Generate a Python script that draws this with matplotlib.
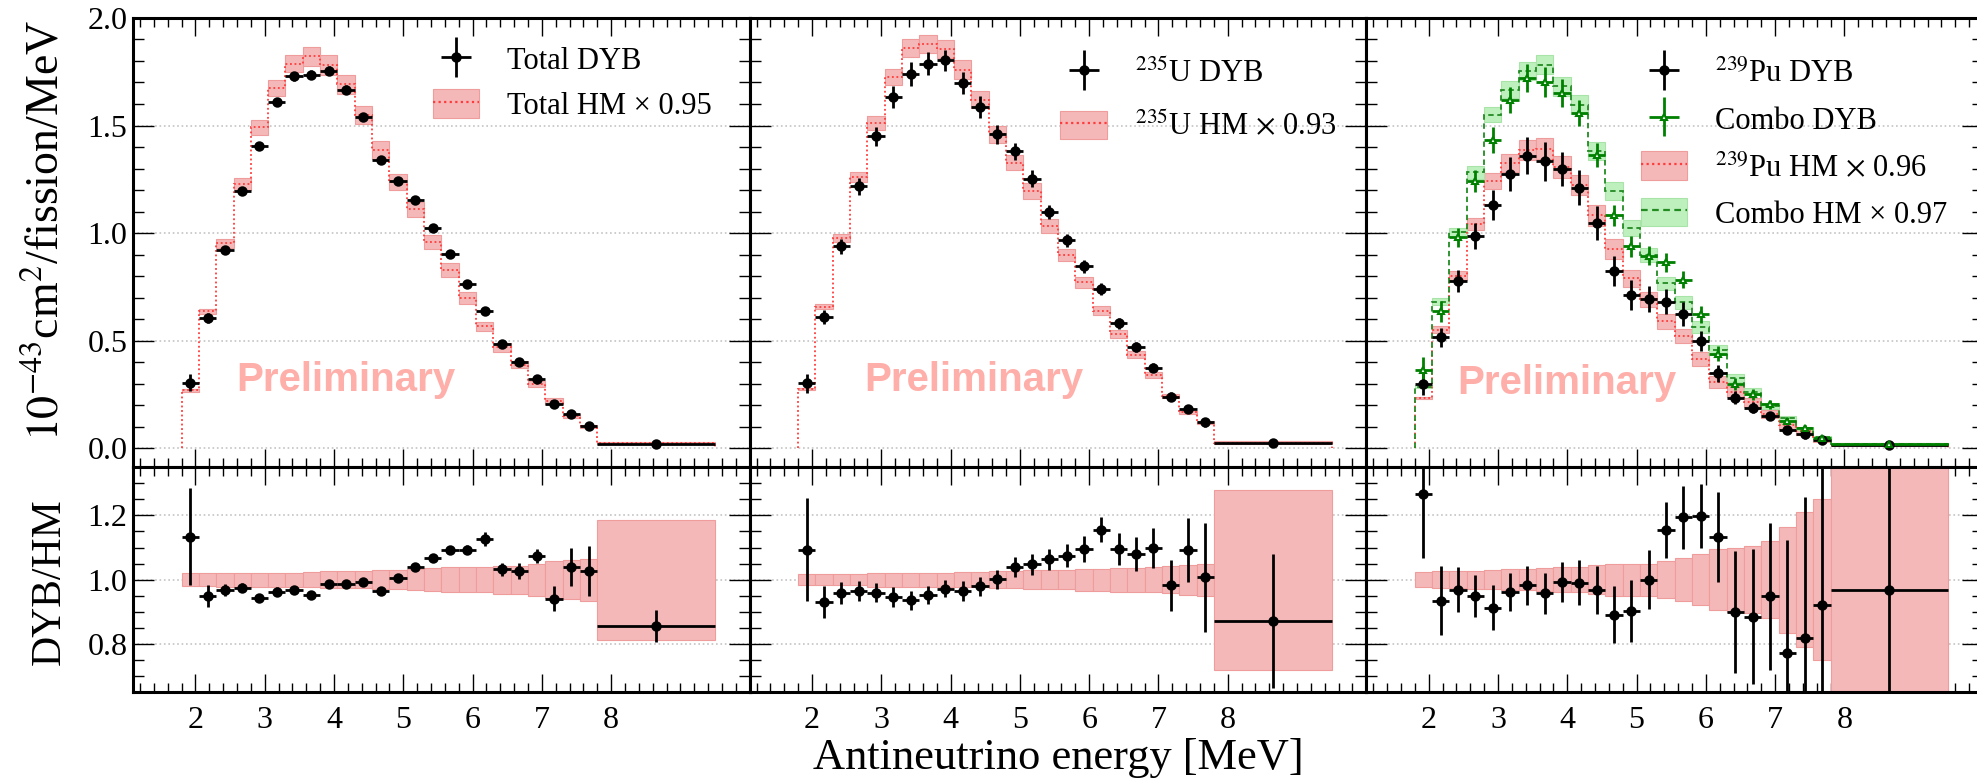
import numpy as np
import matplotlib
matplotlib.use('Agg')
import matplotlib.pyplot as plt
from matplotlib.patches import Patch
from matplotlib.lines import Line2D
from matplotlib.container import ErrorbarContainer
from matplotlib.legend_handler import HandlerErrorbar
from matplotlib.ticker import MultipleLocator, FixedLocator, FormatStrFormatter

plt.rcParams['font.family'] = ['Liberation Serif', 'DejaVu Serif']
plt.rcParams['mathtext.fontset'] = 'stix'

# energy bins [MeV]
edges = [1.8, 2.05, 2.3, 2.55, 2.8, 3.05, 3.3, 3.55, 3.8, 4.05, 4.3, 4.55, 4.8,
         5.05, 5.3, 5.55, 5.8, 6.05, 6.3, 6.55, 6.8, 7.05, 7.3, 7.55, 7.8, 9.5]
xticks = [2, 3, 4, 5, 6, 7, 8]

# --- total ---
total_dyb = [0.305, 0.605, 0.922, 1.198, 1.406, 1.609, 1.729, 1.736, 1.755, 1.667, 1.538, 1.338, 1.243,
             1.153, 1.022, 0.904, 0.763, 0.639, 0.484, 0.400, 0.321, 0.208, 0.158, 0.105, 0.020]
total_dyb_err = [0.040, 0.022, 0.018, 0.018, 0.018, 0.020, 0.021, 0.022, 0.021, 0.020, 0.019, 0.017, 0.015,
                 0.013, 0.012, 0.010, 0.010, 0.012, 0.009, 0.009, 0.007, 0.009, 0.009, 0.008, 0.002]
total_hm = [0.269, 0.637, 0.953, 1.229, 1.491, 1.673, 1.788, 1.822, 1.780, 1.691, 1.549, 1.387, 1.237,
            1.110, 0.958, 0.827, 0.698, 0.567, 0.469, 0.389, 0.299, 0.221, 0.152, 0.102, 0.023]
total_band = [0.020, 0.020, 0.022, 0.022, 0.022, 0.022, 0.022, 0.024, 0.026, 0.026, 0.026, 0.029, 0.029,
              0.033, 0.035, 0.039, 0.039, 0.039, 0.044, 0.044, 0.050, 0.058, 0.061, 0.065, 0.187]
total_ratio = [1.134, 0.949, 0.967, 0.975, 0.943, 0.962, 0.967, 0.953, 0.986, 0.986, 0.993, 0.965, 1.005,
               1.039, 1.067, 1.093, 1.093, 1.127, 1.032, 1.027, 1.074, 0.941, 1.039, 1.027, 0.856]
total_ratio_err = [0.150, 0.034, 0.019, 0.015, 0.012, 0.014, 0.012, 0.012, 0.012, 0.012, 0.012, 0.012, 0.012,
                   0.012, 0.012, 0.012, 0.014, 0.022, 0.020, 0.024, 0.023, 0.040, 0.060, 0.078, 0.049]

# --- U235 ---
u235_dyb = [0.302, 0.612, 0.938, 1.217, 1.450, 1.633, 1.740, 1.788, 1.803, 1.698, 1.586, 1.460, 1.380,
            1.253, 1.098, 0.966, 0.845, 0.740, 0.581, 0.470, 0.375, 0.240, 0.184, 0.121, 0.023]
u235_dyb_err = [0.044, 0.033, 0.033, 0.039, 0.045, 0.052, 0.056, 0.053, 0.048, 0.053, 0.049, 0.044, 0.040,
                0.039, 0.034, 0.031, 0.031, 0.026, 0.027, 0.023, 0.021, 0.020, 0.017, 0.020, 0.005]
u235_hm = [0.276, 0.659, 0.978, 1.261, 1.512, 1.726, 1.859, 1.880, 1.855, 1.760, 1.620, 1.459, 1.328,
           1.196, 1.033, 0.899, 0.772, 0.640, 0.531, 0.435, 0.341, 0.244, 0.168, 0.120, 0.026]
u235_band = [0.018, 0.018, 0.018, 0.018, 0.022, 0.022, 0.022, 0.022, 0.022, 0.024, 0.024, 0.027, 0.027,
             0.030, 0.030, 0.030, 0.034, 0.034, 0.037, 0.037, 0.040, 0.043, 0.047, 0.050, 0.280]
u235_ratio = [1.093, 0.929, 0.959, 0.965, 0.959, 0.946, 0.936, 0.951, 0.972, 0.965, 0.979, 1.001, 1.039,
              1.048, 1.063, 1.075, 1.095, 1.156, 1.095, 1.081, 1.099, 0.982, 1.093, 1.008, 0.871]
u235_ratio_err = [0.160, 0.050, 0.034, 0.031, 0.030, 0.030, 0.030, 0.028, 0.026, 0.030, 0.030, 0.030, 0.030,
                  0.033, 0.033, 0.035, 0.040, 0.040, 0.050, 0.053, 0.062, 0.080, 0.100, 0.170, 0.210]

# --- Pu239 ---
pu239_dyb = [0.298, 0.516, 0.778, 0.988, 1.132, 1.276, 1.360, 1.333, 1.298, 1.212, 1.047, 0.825, 0.713,
             0.693, 0.682, 0.623, 0.499, 0.349, 0.236, 0.189, 0.150, 0.085, 0.065, 0.039, 0.016]
pu239_dyb_err = [0.050, 0.045, 0.050, 0.060, 0.070, 0.080, 0.085, 0.090, 0.080, 0.080, 0.080, 0.070, 0.070,
                 0.060, 0.060, 0.055, 0.045, 0.040, 0.030, 0.025, 0.020, 0.020, 0.020, 0.015, 0.005]
pu239_hm = [0.235, 0.552, 0.803, 1.042, 1.241, 1.326, 1.385, 1.393, 1.307, 1.224, 1.083, 0.926, 0.790,
            0.693, 0.590, 0.522, 0.416, 0.308, 0.263, 0.214, 0.158, 0.110, 0.080, 0.042, 0.017]
pu239_band = [0.024, 0.026, 0.027, 0.028, 0.030, 0.033, 0.033, 0.035, 0.038, 0.038, 0.045, 0.050, 0.050,
              0.050, 0.058, 0.066, 0.079, 0.094, 0.100, 0.104, 0.120, 0.165, 0.210, 0.250, 0.450]
pu239_ratio = [1.267, 0.934, 0.969, 0.948, 0.912, 0.962, 0.982, 0.957, 0.993, 0.990, 0.967, 0.891, 0.902,
               1.000, 1.155, 1.194, 1.199, 1.134, 0.898, 0.884, 0.948, 0.773, 0.817, 0.920, 0.969]
pu239_ratio_err = [0.200, 0.107, 0.070, 0.065, 0.070, 0.060, 0.060, 0.065, 0.063, 0.070, 0.075, 0.089, 0.096,
                   0.092, 0.087, 0.098, 0.100, 0.140, 0.190, 0.210, 0.230, 0.350, 0.440, 0.450, 0.500]

# --- combo ---
combo_dyb = [0.364, 0.636, 0.980, 1.243, 1.434, 1.620, 1.721, 1.701, 1.651, 1.558, 1.364, 1.082, 0.938,
             0.895, 0.864, 0.783, 0.623, 0.439, 0.299, 0.251, 0.205, 0.129, 0.093, 0.047, 0.019]
combo_dyb_err = [0.060, 0.050, 0.045, 0.050, 0.060, 0.060, 0.065, 0.070, 0.065, 0.060, 0.055, 0.050, 0.050,
                 0.045, 0.045, 0.040, 0.040, 0.035, 0.030, 0.025, 0.020, 0.015, 0.015, 0.010, 0.005]
combo_hm = [0.287, 0.682, 1.003, 1.282, 1.550, 1.667, 1.752, 1.783, 1.682, 1.597, 1.380, 1.194, 1.023,
            0.899, 0.767, 0.678, 0.563, 0.457, 0.326, 0.264, 0.197, 0.140, 0.093, 0.054, 0.019]
combo_band = [0.030, 0.025, 0.022, 0.022, 0.022, 0.024, 0.024, 0.025, 0.026, 0.027, 0.030, 0.035, 0.035,
              0.038, 0.040, 0.045, 0.050, 0.055, 0.060, 0.065, 0.070, 0.080, 0.090, 0.100, 0.200]

PINK = '#F5B8B8'
PINK_EDGE = '#EE9C9C'
RED = '#FF3B3B'
LGREEN = '#BEF0BE'
LGREEN_EDGE = '#A8E4A8'
GREEN = '#008000'
PRELIM = '#FFAFAA'

e = np.array(edges)
centers = (e[:-1] + e[1:]) / 2
widths = np.diff(e)
half = widths / 2


def hm_band(ax, vals, rel, face, edge, line, ls):
    v = np.array(vals)
    r = np.array(rel)
    ax.bar(centers, 2 * v * r, bottom=v * (1 - r), width=widths, color=face,
           edgecolor=edge, linewidth=0.8, zorder=2)
    ax.stairs(v, edges, baseline=0, color=line, linestyle=ls, linewidth=1.3, zorder=3)


def ratio_band(ax, rel):
    r = np.array(rel)
    ax.bar(centers, 2 * r, bottom=1 - r, width=widths, color=PINK,
           edgecolor=PINK_EDGE, linewidth=0.8, zorder=2)


def points(ax, y, yerr, color='k', marker='o', mfc=None, ms=6):
    return ax.errorbar(centers, y, xerr=half, yerr=yerr, fmt=marker, color=color,
                       mfc=mfc if mfc else color, mec=color, ms=ms, mew=1.5,
                       elinewidth=2, capsize=0, zorder=5)


def style(ax):
    ax.tick_params(which='both', direction='in', top=True, right=True, labelsize=23)
    ax.tick_params(axis='y', which='major', length=15, width=1.0, pad=4)
    ax.tick_params(axis='y', which='minor', length=8, width=1.0)
    ax.tick_params(axis='x', which='major', length=13, width=1.0, pad=10)
    ax.tick_params(axis='x', which='minor', length=6.5, width=1.0)
    for s in ax.spines.values():
        s.set_linewidth(2.2)
    ax.xaxis.set_major_locator(FixedLocator(xticks))
    ax.xaxis.set_minor_locator(MultipleLocator(0.2))
    ax.grid(axis='y', which='major', color='#C4C4C4', linestyle=':', linewidth=1.2)
    ax.set_axisbelow(True)


def hm_handle(face, edge, line, ls):
    return (Patch(facecolor=face, edgecolor=edge, linewidth=0.8),
            Line2D([], [], color=line, linestyle=ls, linewidth=1.6))


fig, axes = plt.subplots(2, 3, figsize=(19.77, 7.79), dpi=100, sharex=True, sharey='row',
                         gridspec_kw=dict(height_ratios=[2, 1], left=0.0673, right=1.003,
                                          top=0.977, bottom=0.1117, wspace=0, hspace=0))

leg_kw = dict(frameon=False, fontsize=22, loc='upper left', borderaxespad=0, borderpad=0,
              handlelength=1.53, handleheight=1.05, handletextpad=0.9,
              handler_map={ErrorbarContainer: HandlerErrorbar(xerr_size=0.5, yerr_size=0.65)})

# panel 1: total
ax = axes[0, 0]
hm_band(ax, total_hm, total_band, PINK, PINK_EDGE, RED, (0, (1, 1.5)))
p = points(ax, total_dyb, total_dyb_err)
ax.legend([p, hm_handle(PINK, PINK_EDGE, RED, (0, (1, 1.5)))],
          ['Total DYB', 'Total HM \u00d7 0.95'], bbox_to_anchor=(0.486, 0.94),
          labelspacing=0.42, **leg_kw)
ax.text(0.167, 0.194, 'Preliminary', transform=ax.transAxes, fontsize=29, fontweight='bold',
        family='Liberation Sans', color=PRELIM, va='center', ha='left', zorder=1)

ax = axes[1, 0]
ratio_band(ax, total_band)
points(ax, total_ratio, total_ratio_err)

# panel 2: U235
ax = axes[0, 1]
hm_band(ax, u235_hm, u235_band, PINK, PINK_EDGE, RED, (0, (1, 1.5)))
p = points(ax, u235_dyb, u235_dyb_err)
ax.legend([p, hm_handle(PINK, PINK_EDGE, RED, (0, (1, 1.5)))],
          [r'$^{235}$U DYB', r'$^{235}$U HM $\times$ 0.93'], bbox_to_anchor=(0.504, 0.912),
          labelspacing=0.72, **leg_kw)
ax.text(0.186, 0.194, 'Preliminary', transform=ax.transAxes, fontsize=29, fontweight='bold',
        family='Liberation Sans', color=PRELIM, va='center', ha='left', zorder=1)

ax = axes[1, 1]
ratio_band(ax, u235_band)
points(ax, u235_ratio, u235_ratio_err)

# panel 3: Pu239 + combo
ax = axes[0, 2]
hm_band(ax, pu239_hm, pu239_band, PINK, PINK_EDGE, RED, (0, (1, 1.5)))
hm_band(ax, combo_hm, combo_band, LGREEN, LGREEN_EDGE, '#228B22', (0, (3, 2)))
p1 = points(ax, pu239_dyb, pu239_dyb_err)
p2 = points(ax, combo_dyb, combo_dyb_err, color=GREEN, marker='^', mfc='white', ms=5)
ax.legend([p1, p2, hm_handle(PINK, PINK_EDGE, RED, (0, (1, 1.5))),
           hm_handle(LGREEN, LGREEN_EDGE, '#228B22', (0, (3, 2)))],
          [r'$^{239}$Pu DYB', 'Combo DYB', r'$^{239}$Pu HM $\times$ 0.96', 'Combo HM \u00d7 0.97'],
          bbox_to_anchor=(0.445, 0.912), labelspacing=0.5, **leg_kw)
ax.text(0.147, 0.187, 'Preliminary', transform=ax.transAxes, fontsize=29, fontweight='bold',
        family='Liberation Sans', color=PRELIM, va='center', ha='left', zorder=1)

ax = axes[1, 2]
ratio_band(ax, pu239_band)
points(ax, pu239_ratio, pu239_ratio_err)

for ax in axes.flat:
    style(ax)

for ax in axes[0]:
    ax.yaxis.set_major_locator(MultipleLocator(0.5))
    ax.yaxis.set_minor_locator(MultipleLocator(0.1))
for ax in axes[1]:
    ax.yaxis.set_major_locator(MultipleLocator(0.2))
    ax.yaxis.set_minor_locator(MultipleLocator(0.05))

axes[0, 0].yaxis.set_major_formatter(FormatStrFormatter('%.1f'))
axes[1, 0].yaxis.set_major_formatter(FormatStrFormatter('%.1f'))
axes[0, 0].set_xlim(1.1, 10.0)
axes[0, 0].set_ylim(-0.088, 2.0)
axes[1, 0].set_ylim(0.65, 1.35)

axes[0, 0].set_ylabel(r'$10^{-43}$cm$^{2}$/fission/MeV', fontsize=33)
axes[0, 0].yaxis.set_label_coords(-0.105, 0.526)
axes[1, 0].set_ylabel('DYB/HM', fontsize=30)
axes[1, 0].yaxis.set_label_coords(-0.105, 0.493)
axes[1, 1].set_xlabel('Antineutrino energy [MeV]', fontsize=32)
axes[1, 1].xaxis.set_label_coords(0.5, -0.205)

fig.savefig('out.png', dpi=100)
